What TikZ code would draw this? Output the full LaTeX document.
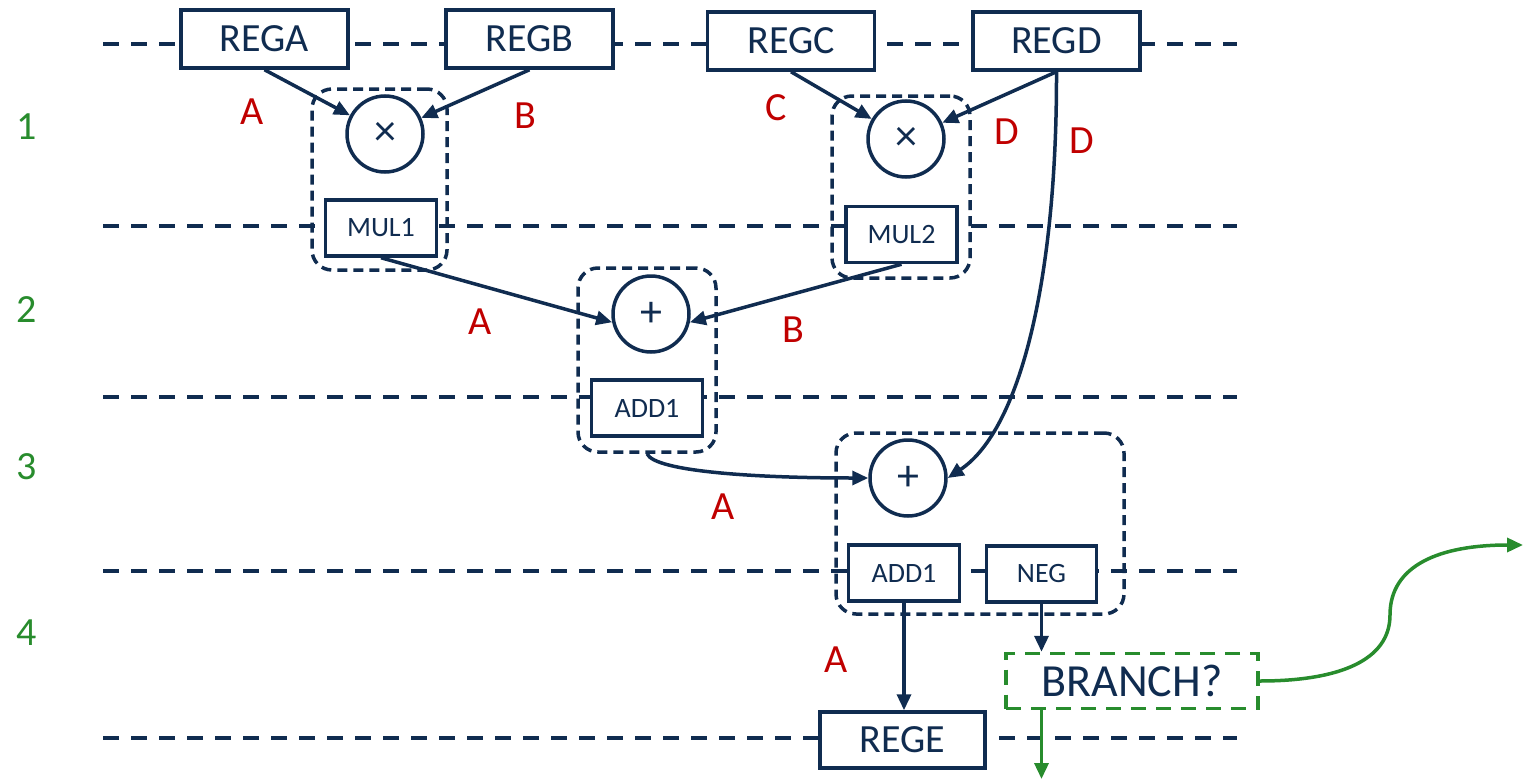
\documentclass[tikz,border=0pt]{standalone}
\usepackage{fontspec}
\setmainfont{Carlito}
\usetikzlibrary{arrows.meta}
\definecolor{navy}{RGB}{16,44,80}
\definecolor{lred}{RGB}{192,0,0}
\definecolor{lgreen}{RGB}{40,140,45}
\begin{document}
\begin{tikzpicture}[x=1pt,y=-1pt,
 reg/.style={draw=navy, line width=3.5pt, fill=white, minimum width=167pt, minimum height=58pt, inner sep=0pt, font=\fontsize{40}{40}\selectfont, text=navy},
 unit/.style={draw=navy, line width=3.5pt, fill=white, minimum width=111pt, minimum height=56pt, inner sep=0pt, font=\fontsize{28}{28}\selectfont, text=navy},
 op/.style={circle, draw=navy, line width=3.5pt, fill=white, minimum size=76pt, inner sep=0pt, font=\fontsize{44}{44}\selectfont, text=navy},
 grp/.style={draw=navy, line width=3.5pt, dash pattern=on 10pt off 6pt, rounded corners=20pt, inner sep=0pt},
 stage/.style={draw=navy, line width=3.5pt, dash pattern=on 16pt off 12pt},
 lbl/.style={text=lred, font=\fontsize{40}{40}\selectfont, inner sep=0pt},
 num/.style={text=lgreen, font=\fontsize{40}{40}\selectfont, inner sep=0pt},
 arr/.style={draw=navy, line width=3.5pt, -{Triangle[length=16pt,width=14pt]}},
 garr/.style={draw=lgreen, line width=3.5pt, -{Triangle[length=16pt,width=14pt]}},
]
\useasboundingbox (0,0) rectangle (1527,779);

% stage lines
\draw[stage] (103,44) -- (1237,44);
\draw[stage] (103,226) -- (1237,226);
\draw[stage] (103,397) -- (1237,397);
\draw[stage] (103,571) -- (1237,571);
\draw[stage] (103,738) -- (1237,738);

% groups
\node[grp, minimum width=135pt, minimum height=181pt] (g1) at (379.5,179.5) {};
\node[grp, minimum width=138pt, minimum height=182pt] (g2) at (901,187) {};
\node[grp, minimum width=138pt, minimum height=184pt] (g3) at (647,360) {};
\node[grp, minimum width=288pt, minimum height=181pt] (g4) at (980,523.5) {};

% registers
\node[reg] (rega) at (264.5,39) {REGA};
\node[reg] (regb) at (529.5,39) {REGB};
\node[reg] (regc) at (791,41) {REGC};
\node[reg] (regd) at (1056.5,41) {REGD};
\node[reg, minimum width=165pt, minimum height=56pt] (rege) at (902.5,740) {REGE};

% units
\node[unit] (mul1u) at (381,228) {MUL1};
\node[unit] (mul2u) at (901.5,234.5) {MUL2};
\node[unit] (add1u) at (647,408) {ADD1};
\node[unit] (add2u) at (904,573) {ADD1};
\node[unit, minimum width=110pt] (negu) at (1041.5,574) {NEG};

% operators
\node[op] (mul1) at (385,134) {×};
\node[op] (mul2) at (906,139) {×};
\node[op] (add1) at (651,314) {+};
\node[op] (add2) at (908,478) {+};

% branch
\node[draw=lgreen, line width=3.5pt, dash pattern=on 15pt off 10pt, fill=white, minimum width=252pt, minimum height=55pt, inner sep=0pt, font=\fontsize{46}{46}\selectfont, text=navy] (branch) at (1132,681) {BRANCH?};
\coordinate (gdown) at (1041.5,779);
\coordinate (gout) at (1523,545);

% connectors
\draw[arr] (rega.south) -- (mul1);
\draw[arr] (regb.south) -- (mul1);
\draw[arr] (regc.south) -- (mul2);
\draw[arr] (regd.south) -- (mul2);
\draw[arr] (mul1u.south) -- (add1.192);
\draw[arr] (mul2u.south) -- (add1.348);
\draw[arr] (g3.south) .. controls (655,472) and (760,478) .. (add2.west);
\draw[arr] (regd.south) .. controls (1057,280) and (1020,430) .. (add2.east);
\draw[arr] (add2u.south) -- (add2u.south |- rege.north);
\draw[arr] (negu.south) -- (negu.south |- branch.north);
\draw[garr] (negu.south |- branch.south) -- (gdown);
\draw[garr] (branch.east) .. controls (1340,681) and (1390,660) .. (1390,615) .. controls (1390,565) and (1440,545) .. (gout);

% labels
\node[lbl] (la1) at (252,112) {A};
\node[lbl] (lb1) at (525,116) {B};
\node[lbl] (lc1) at (776,108) {C};
\node[lbl] (ld1) at (1007,132) {D};
\node[lbl] (ld2) at (1082,141) {D};
\node[lbl] (la2) at (480,322) {A};
\node[lbl] (lb2) at (793,330) {B};
\node[lbl] (la3) at (723,507) {A};
\node[lbl] (la4) at (836,660) {A};

% stage numbers
\node[num] (n1) at (27,127) {1};
\node[num] (n2) at (27,310) {2};
\node[num] (n3) at (27,467) {3};
\node[num] (n4) at (27,633) {4};
\end{tikzpicture}
\end{document}
